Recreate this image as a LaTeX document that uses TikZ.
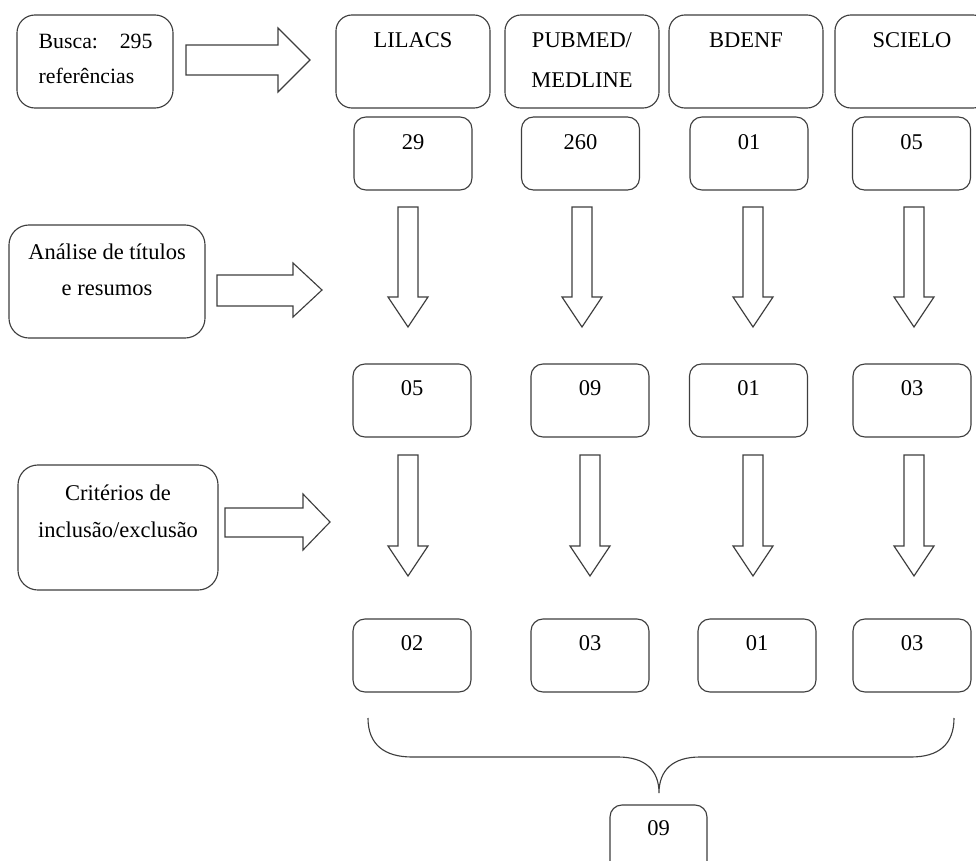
\documentclass[tikz,border=0pt]{standalone}
\usepackage{fontspec}
\setmainfont{Liberation Serif}
\usetikzlibrary{positioning}

\definecolor{linha}{RGB}{62,62,62}

\tikzset{
  caixa/.style={draw=linha, line width=0.8pt, inner sep=0pt},
  base/.style={caixa, minimum width=3.85cm, minimum height=2.325cm, rounded corners=0.4cm},
  qtd/.style={caixa, minimum width=2.95cm, minimum height=1.825cm, rounded corners=0.3cm},
  etapa/.style={caixa, rounded corners=0.5cm},
  rotulo/.style={inner sep=0pt, align=center, font=\fontsize{16}{28.5}\selectfont},
  seta/.style={draw=linha, line width=0.8pt, fill=white, line join=miter},
}

\begin{document}
\begin{tikzpicture}[x=0.025cm, y=-0.025cm]
\useasboundingbox (0,0) rectangle (976,861);

% etapas (esquerda)
\node[etapa, minimum width=3.9cm, minimum height=2.325cm, rounded corners=0.45cm] (busca) at (95,61.5) {};
\node[rotulo, align=left, font=\fontsize{15.5}{25}\selectfont, below right=0.49cm and 0.55cm of busca.north west] (tbusca) {Busca:\quad 295\\referências};

\node[etapa, minimum width=4.9cm, minimum height=2.825cm] (analise) at (107,281.5) {};
\node[rotulo, font=\fontsize{16}{25.6}\selectfont, below=0.48cm of analise.north] (tanalise) {Análise de títulos\\e resumos};

\node[etapa, minimum width=5cm, minimum height=3.125cm] (criterios) at (118,527.5) {};
\node[rotulo, font=\fontsize{16}{26.3}\selectfont, below=0.5cm of criterios.north] (tcriterios) {Critérios de\\inclusão/exclusão};

% bases
\node[base] (lilacs) at (413,61.5) {};
\node[base] (pubmed) at (582,61.5) {};
\node[base] (bdenf) at (746,61.5) {};
\node[base] (scielo) at (912,61.5) {};
\node[rotulo, below=0.44cm of lilacs.north] (tlilacs) {LILACS};
\node[rotulo, below=0.44cm of pubmed.north] (tpubmed) {PUBMED/\\MEDLINE};
\node[rotulo, below=0.44cm of bdenf.north] (tbdenf) {BDENF};
\node[rotulo, below=0.44cm of scielo.north] (tscielo) {SCIELO};

% busca
\node[qtd] (lilA) at (413,153.5) {};
\node[qtd] (pubA) at (580.5,153.5) {};
\node[qtd] (bdeA) at (749,153.5) {};
\node[qtd] (sciA) at (911.5,153.5) {};
\node[rotulo, below=0.45cm of lilA.north] (tlilA) {29};
\node[rotulo, below=0.45cm of pubA.north] (tpubA) {260};
\node[rotulo, below=0.45cm of bdeA.north] (tbdeA) {01};
\node[rotulo, below=0.45cm of sciA.north] (tsciA) {05};

% titulos e resumos
\node[qtd] (lilB) at (412,400.5) {};
\node[qtd] (pubB) at (590,400.5) {};
\node[qtd] (bdeB) at (748.5,400.5) {};
\node[qtd] (sciB) at (912,400.5) {};
\node[rotulo, below=0.41cm of lilB.north] (tlilB) {05};
\node[rotulo, below=0.41cm of pubB.north] (tpubB) {09};
\node[rotulo, below=0.41cm of bdeB.north] (tbdeB) {01};
\node[rotulo, below=0.41cm of sciB.north] (tsciB) {03};

% criterios
\node[qtd] (lilC) at (412,655.5) {};
\node[qtd] (pubC) at (590,655.5) {};
\node[qtd] (bdeC) at (757,655.5) {};
\node[qtd] (sciC) at (912,655.5) {};
\node[rotulo, below=0.41cm of lilC.north] (tlilC) {02};
\node[rotulo, below=0.41cm of pubC.north] (tpubC) {03};
\node[rotulo, below=0.41cm of bdeC.north] (tbdeC) {01};
\node[rotulo, below=0.41cm of sciC.north] (tsciC) {03};

\node[qtd, minimum width=2.425cm, minimum height=2cm] (total) at (658.5,845) {};
\node[rotulo, below=0.39cm of total.north] (ttotal) {09};

% setas para a direita
\draw[seta] (186,45) -- (278,45) -- (278,28) -- (310,60) -- (278,92) -- (278,75) -- (186,75) -- cycle;
\draw[seta] (217,275) -- (293,275) -- (293,263) -- (322,290) -- (293,317) -- (293,306) -- (217,306) -- cycle;
\draw[seta] (225,508) -- (303,508) -- (303,494) -- (330,522) -- (303,550) -- (303,537) -- (225,537) -- cycle;

% setas para baixo
\foreach \cx in {408,582,753,914}
  \draw[seta] (\cx-10,207) -- (\cx+10,207) -- (\cx+10,297) -- (\cx+20,297) -- (\cx,327) -- (\cx-20,297) -- (\cx-10,297) -- cycle;
\foreach \cx in {408,590,753,914}
  \draw[seta] (\cx-10,455) -- (\cx+10,455) -- (\cx+10,546) -- (\cx+20,546) -- (\cx,576) -- (\cx-20,546) -- (\cx-10,546) -- cycle;

% chave
\draw[linha, line width=0.8pt] (368,718) .. controls (368,745) and (385,757) .. (412,757) -- (618,757)
  .. controls (645,757) and (659,770) .. (659,793)
  .. controls (659,770) and (673,757) .. (700,757) -- (911,757)
  .. controls (938,757) and (954,745) .. (954,718);
\end{tikzpicture}
\end{document}
